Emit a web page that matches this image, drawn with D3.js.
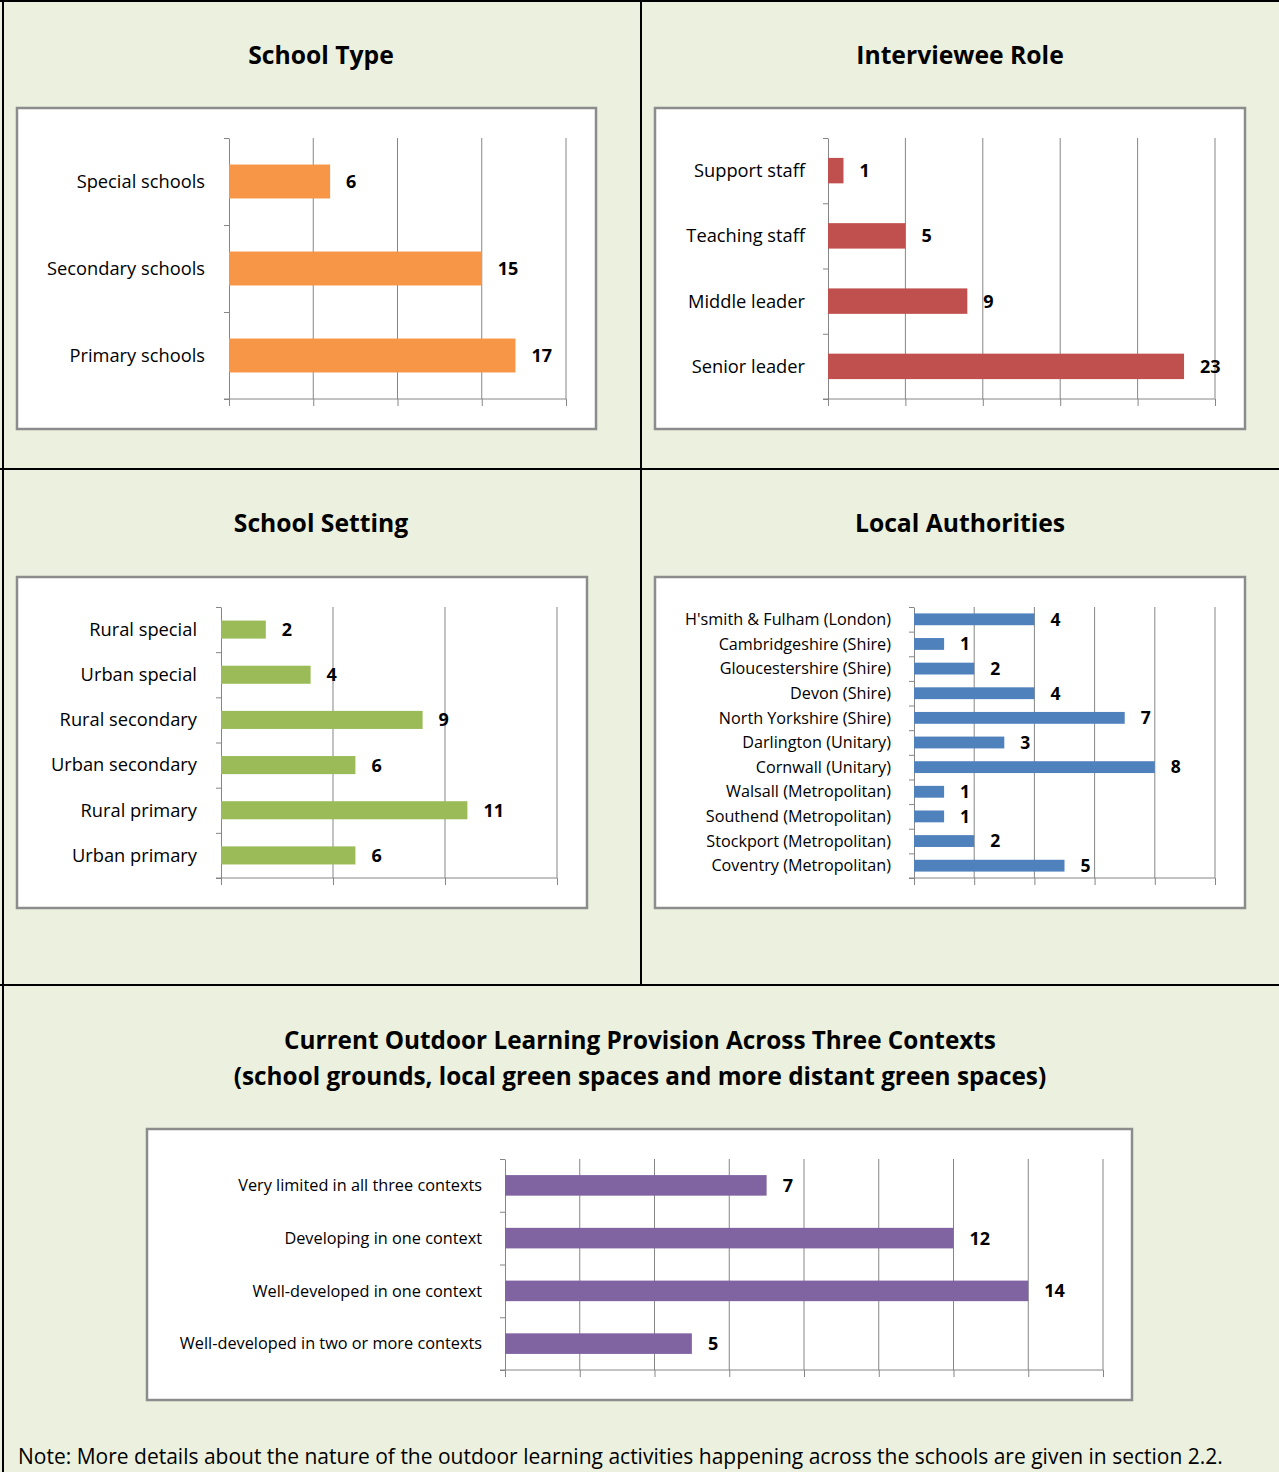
<!DOCTYPE html>
<html>
<head>
<meta charset="utf-8">
<script src="https://cdn.jsdelivr.net/npm/d3@7"></script>
<style>
  body { margin: 0; background: #ebf1de; }
  svg { display: block; }
  text { font-family: "Open Sans", "DejaVu Sans", sans-serif; fill: #000; }
</style>
</head>
<body>
<div id="chart"></div>
<script>
// data, top to bottom as in the figure
const typeCats = ["Special schools", "Secondary schools", "Primary schools"];
const typeVals = [6, 15, 17];

const roleCats = ["Support staff", "Teaching staff", "Middle leader", "Senior leader"];
const roleVals = [1, 5, 9, 23];

const settingCats = ["Rural special", "Urban special", "Rural secondary", "Urban secondary", "Rural primary", "Urban primary"];
const settingVals = [2, 4, 9, 6, 11, 6];

const laCats = ["H'smith & Fulham (London)", "Cambridgeshire (Shire)", "Gloucestershire (Shire)", "Devon (Shire)",
    "North Yorkshire (Shire)", "Darlington (Unitary)", "Cornwall (Unitary)", "Walsall (Metropolitan)",
    "Southend (Metropolitan)", "Stockport (Metropolitan)", "Coventry (Metropolitan)"];
const laVals = [4, 1, 2, 4, 7, 3, 8, 1, 1, 2, 5];

const provCats = ["Very limited in all three contexts", "Developing in one context",
    "Well-developed in one context", "Well-developed in two or more contexts"];
const provVals = [7, 12, 14, 5];

const W = 1279, H = 1472;
const gridColor = "#868686";

const svg = d3.select("#chart").append("svg")
    .attr("width", W)
    .attr("height", H);

svg.append("rect").attr("width", W).attr("height", H).attr("fill", "#ebf1de");

// black panel lines
const panelLines = [
    [3, 0, 3, H], [0, 1, W, 1], [641, 0, 641, 985], [0, 469, W, 469], [0, 985, W, 985]
];
svg.selectAll(".panel-line")
    .data(panelLines)
    .enter().append("line")
    .attr("class", "panel-line")
    .attr("x1", d => d[0]).attr("y1", d => d[1])
    .attr("x2", d => d[2]).attr("y2", d => d[3])
    .attr("stroke", "#000")
    .attr("stroke-width", 2);

function drawChart(opt) {
    const g = svg.append("g");

    // chart frame
    g.append("rect")
        .attr("x", opt.frame[0]).attr("y", opt.frame[1])
        .attr("width", opt.frame[2] - opt.frame[0])
        .attr("height", opt.frame[3] - opt.frame[1])
        .attr("fill", "#fff")
        .attr("stroke", "#8c8c8c")
        .attr("stroke-width", 2.5);

    const x = d3.scaleLinear()
        .domain([0, opt.max])
        .range([opt.left, opt.right]);

    const y = d3.scaleBand()
        .domain(opt.cats)
        .range([opt.top, opt.bottom])
        .paddingInner(1 - opt.barFrac)
        .paddingOuter((1 - opt.barFrac) / 2);

    const ticks = d3.range(0, opt.max + opt.step / 2, opt.step);

    // vertical gridlines
    g.selectAll(".grid")
        .data(ticks.slice(1))
        .enter().append("line")
        .attr("x1", d => x(d)).attr("x2", d => x(d))
        .attr("y1", opt.top).attr("y2", opt.bottom)
        .attr("stroke", gridColor)
        .attr("stroke-width", 1);

    // value axis, no labels
    const xAxis = g.append("g")
        .attr("transform", `translate(0,${opt.bottom})`)
        .call(d3.axisBottom(x).tickValues(ticks).tickSize(7).tickSizeOuter(0).tickFormat(""));

    // category axis, ticks between categories
    const idx = d3.scaleLinear().domain([0, opt.cats.length]).range([opt.top, opt.bottom]);
    const yAxis = g.append("g")
        .attr("transform", `translate(${opt.left},0)`)
        .call(d3.axisLeft(idx).tickValues(d3.range(opt.cats.length + 1)).tickSize(5).tickSizeOuter(0).tickFormat(""));

    [xAxis, yAxis].forEach(a => {
        a.selectAll("path, line").attr("stroke", gridColor).attr("stroke-width", 1);
    });
    xAxis.select(".domain").attr("d", `M${opt.left - 5},0H${opt.right}`);

    // bars
    g.selectAll(".bar")
        .data(opt.vals)
        .enter().append("rect")
        .attr("x", x(0))
        .attr("y", (d, i) => y(opt.cats[i]))
        .attr("width", d => x(d) - x(0))
        .attr("height", y.bandwidth())
        .attr("fill", opt.color);

    // value labels
    g.selectAll(".val")
        .data(opt.vals)
        .enter().append("text")
        .attr("x", d => x(d) + 16)
        .attr("y", (d, i) => y(opt.cats[i]) + y.bandwidth() / 2)
        .attr("dy", "0.36em")
        .attr("font-size", opt.valSize)
        .attr("font-weight", "bold")
        .text(d => d);

    // category labels
    g.selectAll(".cat")
        .data(opt.cats)
        .enter().append("text")
        .attr("x", opt.left - opt.labelGap)
        .attr("y", d => y(d) + y.bandwidth() / 2)
        .attr("dy", "0.35em")
        .attr("text-anchor", "end")
        .attr("font-size", opt.catSize)
        .text(d => d);

    // title lines
    opt.title.forEach((t, i) => {
        g.append("text")
            .attr("x", opt.titleX)
            .attr("y", opt.titleY + i * 36)
            .attr("text-anchor", "middle")
            .attr("font-size", opt.titleSize)
            .attr("font-weight", "bold")
            .text(t);
    });
}

drawChart({
    title: ["School Type"], titleX: 321, titleY: 64, titleSize: 24.7,
    frame: [17, 108, 596, 429],
    left: 229, right: 566, top: 138, bottom: 399,
    max: 20, step: 5, barFrac: 0.39,
    cats: typeCats, vals: typeVals, color: "#f79646",
    catSize: 18.3, valSize: 18, labelGap: 24
});

drawChart({
    title: ["Interviewee Role"], titleX: 960, titleY: 64, titleSize: 24.7,
    frame: [655, 108, 1245, 429],
    left: 828, right: 1215, top: 138, bottom: 399,
    max: 25, step: 5, barFrac: 0.39,
    cats: roleCats, vals: roleVals, color: "#c0504d",
    catSize: 18.3, valSize: 18, labelGap: 23
});

drawChart({
    title: ["School Setting"], titleX: 321, titleY: 532, titleSize: 24.7,
    frame: [17, 577, 587, 908],
    left: 221, right: 557, top: 607, bottom: 878,
    max: 15, step: 5, barFrac: 0.4,
    cats: settingCats, vals: settingVals, color: "#9bbb59",
    catSize: 18.3, valSize: 18, labelGap: 24
});

drawChart({
    title: ["Local Authorities"], titleX: 960, titleY: 532, titleSize: 24.7,
    frame: [655, 577, 1245, 908],
    left: 914, right: 1215, top: 607, bottom: 878,
    max: 10, step: 2, barFrac: 0.48,
    cats: laCats, vals: laVals, color: "#4f81bd",
    catSize: 16.2, valSize: 17.5, labelGap: 23
});

drawChart({
    title: ["Current Outdoor Learning Provision Across Three Contexts",
            "(school grounds, local green spaces and more distant green spaces)"],
    titleX: 640, titleY: 1049, titleSize: 24.3,
    frame: [147, 1129, 1132, 1400],
    left: 505, right: 1103, top: 1159, bottom: 1370,
    max: 16, step: 2, barFrac: 0.39,
    cats: provCats, vals: provVals, color: "#8064a2",
    catSize: 16.3, valSize: 18, labelGap: 23
});

svg.append("text")
    .attr("x", 18)
    .attr("y", 1464)
    .attr("font-size", 21)
    .text("Note: More details about the nature of the outdoor learning activities happening across the schools are given in section 2.2.");
</script>
</body>
</html>
